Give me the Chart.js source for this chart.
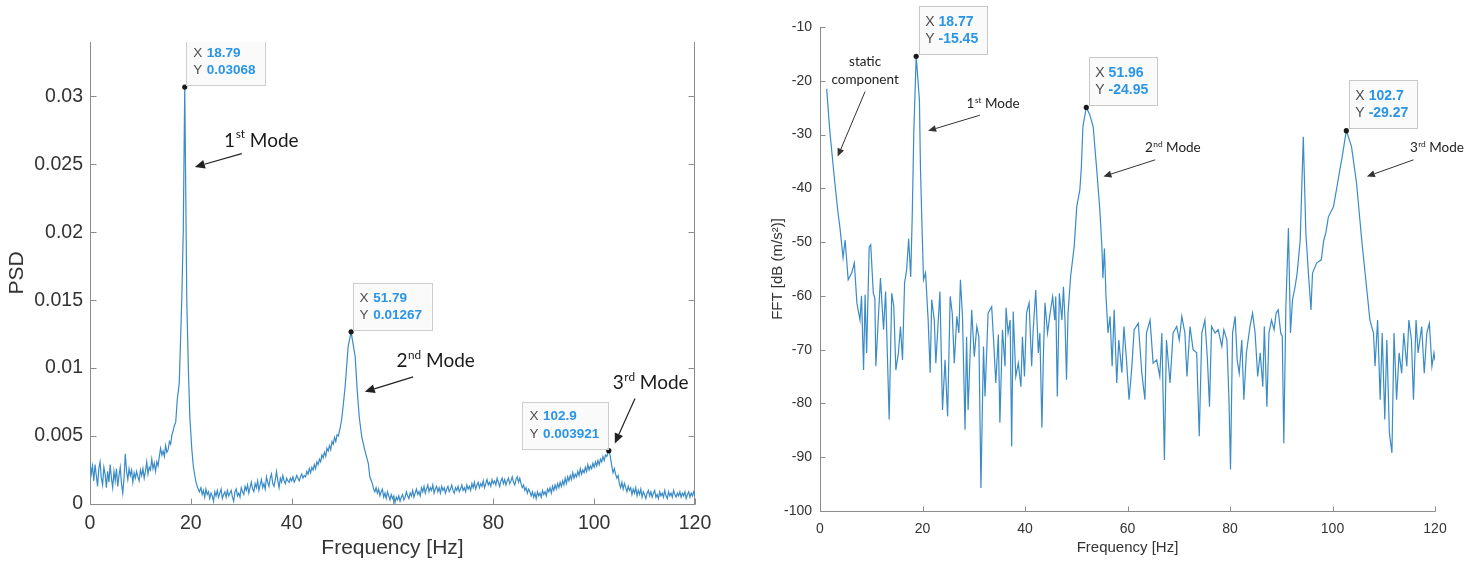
<!DOCTYPE html>
<html>
<head>
<meta charset="utf-8">
<script src="https://cdn.jsdelivr.net/npm/chart.js@4.4.1/dist/chart.umd.min.js"></script>
<style>
  html, body { margin: 0; padding: 0; background: #fff; }
  body { width: 1476px; height: 564px; position: relative; overflow: hidden; }
  .panel { position: absolute; top: 0; height: 564px; }
  #psd-wrap { left: 0; width: 740px; }
  #fft-wrap { left: 740px; width: 736px; }
</style>
</head>
<body>
<div class="panel" id="psd-wrap"><canvas id="psd-chart"></canvas></div>
<div class="panel" id="fft-wrap"><canvas id="fft-chart"></canvas></div>
<script>
// ---------- PSD panel ----------
const psdFreq = [
  0, 0.25, 0.5, 0.75, 1, 1.25, 1.5, 1.75, 2, 2.25,
  2.5, 2.75, 3, 3.25, 3.5, 3.75, 4, 4.25, 4.5, 4.75,
  5, 5.25, 5.5, 5.75, 6, 6.25, 6.5, 6.75, 7, 7.25,
  7.5, 7.75, 8, 8.25, 8.5, 8.75, 9, 9.25, 9.5, 9.75,
  10, 10.25, 10.5, 10.75, 11, 11.25, 11.5, 11.75, 12, 12.25,
  12.5, 12.75, 13, 13.25, 13.5, 13.75, 14, 14.25, 14.5, 14.75,
  15, 15.25, 15.5, 15.75, 16, 16.25, 16.5, 16.75, 17, 17.3,
  17.7, 17.9, 18.2, 18.5, 18.79, 19.2, 19.5, 19.8, 20.2, 20.5,
  21, 21.3, 21.7, 22, 22.25, 22.5, 22.75, 23, 23.25, 23.5,
  23.75, 24, 24.25, 24.5, 24.75, 25, 25.25, 25.5, 25.75, 26,
  26.25, 26.5, 26.75, 27, 27.25, 27.5, 27.75, 28, 28.25, 28.5,
  28.75, 29, 29.25, 29.5, 29.75, 30, 30.25, 30.5, 30.75, 31,
  31.25, 31.5, 31.75, 32, 32.25, 32.5, 32.75, 33, 33.25, 33.5,
  33.75, 34, 34.25, 34.5, 34.75, 35, 35.25, 35.5, 35.75, 36,
  36.25, 36.5, 36.75, 37, 37.25, 37.5, 37.75, 38, 38.25, 38.5,
  38.75, 39, 39.25, 39.5, 39.75, 40, 40.25, 40.5, 40.75, 41,
  41.25, 41.5, 41.75, 42, 42.25, 42.5, 42.75, 43, 43.25, 43.5,
  43.75, 44, 44.25, 44.5, 44.75, 45, 45.25, 45.5, 45.75, 46,
  46.25, 46.5, 46.75, 47, 47.25, 47.5, 47.75, 48, 48.25, 48.5,
  48.75, 49, 49.25, 49.6, 49.9, 50.2, 50.6, 50.9, 51.2, 51.79,
  52.6, 53, 53.4, 53.9, 54.5, 55.2, 55.5, 56, 56.25, 56.5,
  56.75, 57, 57.25, 57.5, 57.75, 58, 58.25, 58.5, 58.75, 59,
  59.25, 59.5, 59.75, 60, 60.25, 60.5, 60.75, 61, 61.25, 61.5,
  61.75, 62, 62.25, 62.5, 62.75, 63, 63.25, 63.5, 63.75, 64,
  64.25, 64.5, 64.75, 65, 65.25, 65.5, 65.75, 66, 66.25, 66.5,
  66.75, 67, 67.25, 67.5, 67.75, 68, 68.25, 68.5, 68.75, 69,
  69.25, 69.5, 69.75, 70, 70.25, 70.5, 70.75, 71, 71.25, 71.5,
  71.75, 72, 72.25, 72.5, 72.75, 73, 73.25, 73.5, 73.75, 74,
  74.25, 74.5, 74.75, 75, 75.25, 75.5, 75.75, 76, 76.25, 76.5,
  76.75, 77, 77.25, 77.5, 77.75, 78, 78.25, 78.5, 78.75, 79,
  79.25, 79.5, 79.75, 80, 80.25, 80.5, 80.75, 81, 81.25, 81.5,
  81.75, 82, 82.25, 82.5, 82.75, 83, 83.25, 83.5, 83.75, 84,
  84.25, 84.5, 84.75, 85, 85.25, 85.5, 85.75, 86, 86.25, 86.5,
  86.75, 87, 87.25, 87.5, 87.75, 88, 88.25, 88.5, 88.75, 89,
  89.25, 89.5, 89.75, 90, 90.25, 90.5, 90.75, 91, 91.25, 91.5,
  91.75, 92, 92.25, 92.5, 92.75, 93, 93.25, 93.5, 93.75, 94,
  94.25, 94.5, 94.75, 95, 95.25, 95.5, 95.75, 96, 96.25, 96.5,
  96.75, 97, 97.25, 97.5, 97.75, 98, 98.25, 98.5, 98.75, 99,
  99.25, 99.5, 99.75, 100, 100.25, 100.5, 100.75, 101, 101.25, 101.5,
  101.75, 102, 102.25, 102.5, 102.9, 103.2, 103.5, 103.75, 104, 104.25,
  104.5, 104.75, 105, 105.25, 105.5, 105.75, 106, 106.25, 106.5, 106.75,
  107, 107.25, 107.5, 107.75, 108, 108.25, 108.5, 108.75, 109, 109.25,
  109.5, 109.75, 110, 110.25, 110.5, 110.75, 111, 111.25, 111.5, 111.75,
  112, 112.25, 112.5, 112.75, 113, 113.25, 113.5, 113.75, 114, 114.25,
  114.5, 114.75, 115, 115.25, 115.5, 115.75, 116, 116.25, 116.5, 116.75,
  117, 117.25, 117.5, 117.75, 118, 118.25, 118.5, 118.75, 119, 119.25,
  119.5, 119.75, 120
];
const psdValue = [
  0.0031, 0.0022, 0.0028, 0.0017, 0.0029, 0.0021, 0.0013, 0.0026, 0.0031, 0.0019,
  0.0014, 0.0027, 0.0022, 0.0012, 0.0024, 0.0016, 0.0029, 0.0019, 0.0012, 0.0024,
  0.0017, 0.0026, 0.0013, 0.0021, 0.0027, 0.0015, 0.0008, 0.0019, 0.0037, 0.0024,
  0.0018, 0.0026, 0.0021, 0.0025, 0.0016, 0.0023, 0.0019, 0.0024, 0.0020, 0.0017,
  0.0025, 0.0021, 0.0026, 0.0019, 0.0024, 0.0031, 0.0022, 0.0027, 0.0025, 0.0033,
  0.0026, 0.0030, 0.0024, 0.0031, 0.0028, 0.0035, 0.0041, 0.0036, 0.0039, 0.0035,
  0.0043, 0.0038, 0.0040, 0.0046, 0.0044, 0.0051, 0.0054, 0.0058, 0.0060, 0.00765,
  0.00888, 0.0113, 0.0150, 0.0201, 0.03068, 0.0150, 0.0101, 0.0064, 0.0040, 0.00274,
  0.00164, 0.00127, 0.0009, 0.0012, 0.0007, 0.0010, 0.0005, 0.0011, 0.0007, 0.0009,
  0.0004, 0.0008, 0.0006, 0.0002, 0.0009, 0.0006, 0.0010, 0.0005, 0.0008, 0.0011,
  0.0004, 0.0007, 0.0009, 0.0005, 0.0010, 0.0006, 0.0008, 0.0010, 0.0005, 0.0002,
  0.0009, 0.0011, 0.0006, 0.0008, 0.0005, 0.0012, 0.0009, 0.0007, 0.0013, 0.0010,
  0.0014, 0.0008, 0.0012, 0.0016, 0.0011, 0.0009, 0.0015, 0.0012, 0.0017, 0.0010,
  0.0014, 0.0018, 0.0012, 0.0015, 0.0011, 0.0020, 0.0016, 0.0013, 0.0019, 0.0022,
  0.0015, 0.0013, 0.0018, 0.0024, 0.0017, 0.0012, 0.0019, 0.0016, 0.0021, 0.0017,
  0.0015, 0.0019, 0.0017, 0.0016, 0.0019, 0.0017, 0.0020, 0.0016, 0.0018, 0.0021,
  0.0019, 0.0017, 0.0020, 0.0022, 0.0019, 0.0021, 0.0020, 0.0024, 0.0022, 0.0026,
  0.0023, 0.0027, 0.0025, 0.0029, 0.0026, 0.0031, 0.0029, 0.0033, 0.0031, 0.0036,
  0.0034, 0.0038, 0.0035, 0.0041, 0.0039, 0.0043, 0.0040, 0.0046, 0.0044, 0.0049,
  0.0046, 0.0051, 0.0050, 0.00556, 0.00618, 0.00716, 0.00863, 0.0101, 0.01157, 0.01267,
  0.01083, 0.00838, 0.00642, 0.00495, 0.00397, 0.00299, 0.0020, 0.0015, 0.0011, 0.0009,
  0.0012, 0.0008, 0.0011, 0.0006, 0.0009, 0.0011, 0.0005, 0.0008, 0.0004, 0.0009,
  0.0006, 0.0003, 0.0007, 0.0004, 0.0006, 0.0001, 0.0005, 0.0003, 0.0006, 0.0002,
  0.0005, 0.0007, 0.0003, 0.0005, 0.0009, 0.0006, 0.0004, 0.0008, 0.0006, 0.0010,
  0.0005, 0.0008, 0.0011, 0.0007, 0.0009, 0.0006, 0.0012, 0.0009, 0.0013, 0.0008,
  0.0011, 0.0014, 0.0009, 0.0012, 0.0010, 0.0014, 0.0008, 0.0011, 0.0013, 0.0009,
  0.0012, 0.0008, 0.0013, 0.0010, 0.0012, 0.0008, 0.0011, 0.0013, 0.0009, 0.0011,
  0.0014, 0.0010, 0.0008, 0.0012, 0.0010, 0.0013, 0.0009, 0.0011, 0.0014, 0.0010,
  0.0012, 0.0009, 0.0014, 0.0011, 0.0013, 0.0010, 0.0015, 0.0012, 0.0016, 0.0011,
  0.0014, 0.0016, 0.0012, 0.0015, 0.0013, 0.0017, 0.0012, 0.0015, 0.0018, 0.0014,
  0.0016, 0.0013, 0.0018, 0.0015, 0.0017, 0.0014, 0.0019, 0.0016, 0.0013, 0.0017,
  0.0019, 0.0015, 0.0018, 0.0014, 0.0017, 0.0019, 0.0015, 0.0017, 0.0020, 0.0016,
  0.0014, 0.0018, 0.0020, 0.0016, 0.0019, 0.0015, 0.0012, 0.0014, 0.0010, 0.0012,
  0.0008, 0.0011, 0.0009, 0.0006, 0.0009, 0.0005, 0.0008, 0.0004, 0.0009, 0.0006,
  0.0008, 0.0005, 0.0010, 0.0007, 0.0009, 0.0006, 0.0011, 0.0009, 0.0012, 0.0008,
  0.0013, 0.0010, 0.0014, 0.0011, 0.0015, 0.0012, 0.0016, 0.0013, 0.0017, 0.0014,
  0.0019, 0.0015, 0.0020, 0.0017, 0.0021, 0.0018, 0.0023, 0.0019, 0.0022, 0.0020,
  0.0024, 0.0021, 0.0026, 0.0022, 0.0025, 0.0023, 0.0027, 0.0024, 0.0029, 0.0025,
  0.0028, 0.0026, 0.0030, 0.0027, 0.0031, 0.0028, 0.0032, 0.0029, 0.0033, 0.0031,
  0.0035, 0.0032, 0.0036, 0.0035, 0.003921, 0.0035, 0.0028, 0.0023, 0.0026, 0.0022,
  0.0019, 0.0021, 0.0015, 0.0012, 0.0016, 0.0011, 0.0015, 0.0012, 0.0009, 0.0013,
  0.0010, 0.0012, 0.0007, 0.0011, 0.0008, 0.0012, 0.0006, 0.0010, 0.0007, 0.0011,
  0.0005, 0.0009, 0.0007, 0.0004, 0.0008, 0.0010, 0.0006, 0.0009, 0.0005, 0.0008,
  0.0010, 0.0005, 0.0007, 0.0004, 0.0009, 0.0006, 0.0008, 0.0005, 0.0010, 0.0006,
  0.0004, 0.0009, 0.0006, 0.0008, 0.0005, 0.0010, 0.0007, 0.0005, 0.0008, 0.0006,
  0.0009, 0.0005, 0.0008, 0.0006, 0.0009, 0.0004, 0.0007, 0.0009, 0.0005, 0.0008,
  0.0006, 0.0009, 0.0006
];
const psdYTicks = [0, 0.005, 0.01, 0.015, 0.02, 0.025, 0.03];
const psdYLabels = ['0', '0.005', '0.01', '0.015', '0.02', '0.025', '0.03'];
const psdPeakFreq = [18.79, 51.79, 102.9];
const psdPeakValue = [0.03068, 0.01267, 0.003921];

// ---------- FFT panel ----------
const fftFreq = [
  1.3, 1.95, 2.9, 3.5, 3.9, 4.5, 4.9, 5.5, 6.2, 6.7, 7.2, 7.8, 8.1, 8.5, 8.8, 9.1, 9.6, 9.9, 10.4, 10.7,
  10.9, 11.4, 11.8, 12.4, 12.8, 13.5, 14.0, 14.4, 14.8, 15.3, 15.7, 16.1, 16.5, 16.9, 17.3, 17.7, 18.0, 18.3, 18.77, 19.4,
  19.6, 19.9, 20.2, 20.6, 21.1, 21.5, 21.8, 22.3, 22.6, 23.4, 23.9, 24.4, 24.9, 25.4, 25.8, 26.2, 26.7, 27.1, 27.4, 27.8,
  28.3, 28.6, 28.9, 29.6, 30.1, 30.6, 31.0, 31.4, 31.9, 32.2, 32.8, 33.5, 33.9, 34.3, 34.8, 35.1, 35.6, 36.1, 36.3, 36.7,
  37.1, 37.4, 37.7, 38.2, 38.7, 39.2, 39.5, 39.9, 40.3, 40.8, 41.3, 41.6, 42.1, 42.6, 42.9, 43.3, 43.6, 43.9, 44.4, 44.9,
  45.4, 45.8, 46.0, 46.3, 46.7, 47.2, 47.5, 47.8, 48.1, 48.4, 48.9, 49.6, 50.1, 50.7, 51.0, 51.3, 51.96, 52.6, 53.3, 54.0,
  54.6, 55.0, 55.2, 55.5, 55.8, 56.2, 56.6, 57.0, 57.4, 57.9, 58.3, 58.9, 59.3, 59.8, 60.3, 60.8, 61.3, 62.1, 62.8, 63.4,
  63.7, 64.4, 65.0, 65.7, 66.3, 66.7, 67.2, 67.6, 68.3, 68.9, 69.6, 70.1, 70.6, 71.2, 71.6, 72.2, 72.8, 73.5, 74.0, 74.5,
  75.1, 75.6, 76.0, 76.4, 77.1, 77.7, 78.4, 78.8, 79.4, 79.8, 80.1, 80.5, 81.0, 81.4, 81.8, 82.3, 82.7, 83.2, 83.9, 84.4,
  84.9, 85.4, 85.9, 86.4, 86.7, 87.2, 87.6, 88.1, 88.6, 89.0, 89.4, 89.9, 90.2, 90.5, 90.9, 91.4, 91.8, 92.2, 92.7, 93.1,
  93.7, 94.3, 94.8, 95.3, 95.8, 96.1, 96.9, 97.8, 98.3, 98.7, 99.2, 100.2, 101.1, 102.0, 102.7, 103.7, 104.7, 105.7, 106.7, 107.3,
  108.0, 108.3, 108.8, 109.3, 109.7, 110.2, 110.6, 111.1, 111.6, 112.0, 112.5, 113.0, 113.5, 113.9, 114.5, 114.9, 115.4, 115.8, 116.3, 116.7,
  117.4, 117.9, 118.4, 118.9, 119.4, 119.8, 120.0
];
const fftLevel = [
  -21.5, -29.7, -39.0, -44.4, -47.4, -52.9, -49.6, -57.0, -55.7, -53.9, -61.3, -64.5, -60.0, -73.8, -59.8, -70.6, -50.9, -50.5, -59.5, -60.4,
  -73.1, -63.8, -56.7, -66.3, -59.2, -83.0, -59.5, -62.0, -73.8, -70.6, -65.7, -71.9, -57.6, -55.2, -49.4, -56.5, -45.0, -29.7, -15.45, -23.6,
  -36.0, -47.0, -57.0, -55.7, -64.5, -74.3, -60.7, -64.5, -72.5, -59.2, -81.2, -71.9, -82.4, -60.1, -63.2, -72.5, -63.8, -66.9, -57.0, -63.8,
  -84.9, -67.6, -81.2, -62.6, -71.3, -65.7, -67.6, -95.7, -69.4, -78.7, -63.2, -62.0, -68.7, -76.2, -67.2, -83.6, -66.3, -73.1, -62.2, -66.9,
  -64.5, -88.0, -62.9, -75.0, -72.5, -76.9, -67.6, -75.0, -63.2, -61.3, -73.1, -66.3, -58.9, -70.6, -66.9, -84.5, -70.6, -61.3, -66.9, -63.2,
  -60.1, -64.5, -60.1, -78.7, -59.5, -64.5, -58.3, -64.5, -75.6, -63.2, -56.4, -50.8, -43.4, -40.3, -36.0, -28.5, -24.95, -26.2, -28.5, -36.6,
  -44.0, -50.8, -56.7, -51.2, -60.0, -66.9, -63.8, -73.1, -62.6, -76.2, -68.2, -74.3, -65.7, -71.9, -79.3, -73.8, -66.3, -65.1, -74.4, -79.3,
  -66.9, -64.5, -72.5, -71.9, -75.0, -66.9, -90.5, -68.2, -76.2, -66.9, -65.7, -68.2, -63.8, -66.9, -75.0, -65.7, -70.0, -70.6, -86.1, -66.9,
  -64.5, -71.9, -80.6, -65.7, -66.9, -66.3, -69.4, -66.3, -68.2, -79.3, -92.3, -66.9, -63.8, -71.9, -74.4, -68.2, -79.3, -70.6, -65.7, -63.2,
  -66.9, -75.0, -70.6, -76.9, -65.7, -80.6, -66.9, -64.5, -66.3, -63.2, -62.6, -66.9, -67.5, -87.4, -62.0, -47.4, -66.9, -60.7, -58.3, -55.8,
  -49.6, -30.4, -48.3, -55.8, -62.6, -55.8, -53.9, -53.3, -49.6, -48.3, -45.3, -43.4, -38.4, -33.5, -29.27, -32.2, -39.1, -49.6, -58.9, -64.5,
  -66.9, -73.1, -64.5, -79.3, -66.9, -83.0, -68.2, -85.5, -89.2, -66.9, -79.3, -70.6, -74.4, -66.9, -73.1, -64.5, -68.2, -79.3, -64.5, -70.6,
  -65.7, -74.4, -66.9, -65.1, -73.1, -70.6, -72.0
];
const fftYTicks = [-100, -90, -80, -70, -60, -50, -40, -30, -20, -10];
const fftPeakFreq = [18.77, 51.96, 102.7];
const fftPeakLevel = [-15.45, -24.95, -29.27];

const freqTicks = [0, 20, 40, 60, 80, 100, 120];
const modeNames = [['1', 'st'], ['2', 'nd'], ['3', 'rd']];

const LINE_BLUE = '#3a8bc6';
const AXIS_GREY = '#8c8c8c';
const TEXT_DARK = '#333333';
const SANS = '"Liberation Sans", Arial, Helvetica, sans-serif';
const NOTE_FONT = 'Lato, "Open Sans", sans-serif';

const points = (xs, ys) => xs.map((x, i) => ({ x, y: ys[i] }));

// axis lines with inward ticks, optional right edge
const axesBox = {
  id: 'axesBox',
  beforeDatasetsDraw(chart, _args, o) {
    const { ctx, chartArea: a, scales: { x, y } } = chart;
    ctx.save();
    ctx.strokeStyle = o.color;
    ctx.lineWidth = 1;
    ctx.beginPath();
    const L = Math.round(a.left) + 0.5, B = Math.round(a.bottom) + 0.5, R = Math.round(a.right) - 0.5;
    ctx.moveTo(L, a.top);
    ctx.lineTo(L, B);
    ctx.lineTo(R + 1, B);
    if (o.box) {
      ctx.moveTo(R, a.top);
      ctx.lineTo(R, B);
    }
    x.ticks.forEach(t => {
      const p = Math.round(x.getPixelForValue(t.value)) + 0.5;
      ctx.moveTo(p, B);
      ctx.lineTo(p, B - o.tickLen);
    });
    y.ticks.forEach(t => {
      const p = Math.round(y.getPixelForValue(t.value)) + 0.5;
      ctx.moveTo(L, p);
      ctx.lineTo(L + o.tickLen, p);
      if (o.box) {
        ctx.moveTo(R, p);
        ctx.lineTo(R - o.tickLen, p);
      }
    });
    ctx.stroke();
    ctx.restore();
  }
};

function drawArrow(ctx, x1, y1, x2, y2, a) {
  const ang = Math.atan2(y2 - y1, x2 - x1);
  const c = Math.cos(ang), s = Math.sin(ang);
  const bx = x2 - a.head * c, by = y2 - a.head * s;
  ctx.strokeStyle = a.color;
  ctx.fillStyle = a.color;
  ctx.lineWidth = a.width;
  ctx.beginPath();
  ctx.moveTo(x1, y1);
  ctx.lineTo(bx, by);
  ctx.stroke();
  ctx.beginPath();
  ctx.moveTo(x2, y2);
  ctx.lineTo(bx + a.half * s, by - a.half * c);
  ctx.lineTo(bx - a.half * s, by + a.half * c);
  ctx.closePath();
  ctx.fill();
}

function drawModeLabel(ctx, x, y, name, size, color) {
  ctx.fillStyle = color;
  ctx.textAlign = 'left';
  ctx.textBaseline = 'middle';
  ctx.font = `${size}px ${NOTE_FONT}`;
  ctx.fillText(name[0], x, y);
  let cx = x + ctx.measureText(name[0]).width + 0.5;
  ctx.font = `${size * 0.62}px ${NOTE_FONT}`;
  ctx.fillText(name[1], cx, y - size * 0.3);
  cx += ctx.measureText(name[1]).width;
  ctx.font = `${size}px ${NOTE_FONT}`;
  ctx.fillText(' Mode', cx, y);
}

function drawTip(ctx, ax, ay, xs, ys, t, side) {
  const bold = `bold ${t.size}px ${SANS}`;
  ctx.font = bold;
  const w = Math.max(ctx.measureText(xs).width, ctx.measureText(ys).width);
  const bw = t.numX + w + t.padR;
  const left = side === 'left' ? ax - bw : ax + t.dx;
  const top = ay - t.dy - t.h;
  ctx.fillStyle = t.fill;
  ctx.fillRect(left, top, bw, t.h);
  ctx.strokeStyle = t.border;
  ctx.lineWidth = 1;
  ctx.strokeRect(Math.round(left) + 0.5, Math.round(top) + 0.5, Math.round(bw), Math.round(t.h));
  ctx.textAlign = 'left';
  ctx.textBaseline = 'middle';
  ctx.font = `${t.size}px ${SANS}`;
  ctx.fillStyle = t.labelColor;
  ctx.fillText('X', left + t.labelX, top + t.row1);
  ctx.fillText('Y', left + t.labelX, top + t.row2);
  ctx.font = bold;
  ctx.fillStyle = t.valueColor;
  ctx.fillText(xs, left + t.numX, top + t.row1);
  ctx.fillText(ys, left + t.numX, top + t.row2);
}

// mode labels, arrows and data tips
const peakNotes = {
  id: 'peakNotes',
  afterDatasetsDraw(chart, _args, o) {
    const { ctx, chartArea: area, scales: { x, y } } = chart;
    const px = v => x.getPixelForValue(v);
    const py = v => y.getPixelForValue(v);
    ctx.save();
    o.notes.forEach(n => {
      drawArrow(ctx, px(n.from[0]), py(n.from[1]), px(n.to[0]), py(n.to[1]), o.arrow);
      if (n.mode !== undefined) {
        drawModeLabel(ctx, px(n.at[0]), py(n.at[1]), modeNames[n.mode], o.noteSize, o.noteColor);
      } else {
        ctx.fillStyle = o.noteColor;
        ctx.font = `${o.noteSize}px ${NOTE_FONT}`;
        ctx.textAlign = 'center';
        ctx.textBaseline = 'middle';
        n.lines.forEach((s, i) => ctx.fillText(s, px(n.at[0]), py(n.at[1]) + i * n.gap));
      }
    });
    ctx.save();
    if (o.clipTop) {
      ctx.beginPath();
      ctx.rect(0, area.top, chart.width, chart.height - area.top);
      ctx.clip();
    }
    o.peakX.forEach((f, i) => {
      const v = o.peakY[i];
      drawTip(ctx, px(f), py(v), f.toPrecision(4), v.toPrecision(4), o.tip, o.tipSide[i]);
    });
    ctx.restore();
    ctx.restore();
  }
};

function makeChart(id, cfg) {
  return new Chart(document.getElementById(id), {
    type: 'line',
    data: {
      datasets: [
        {
          type: 'scatter',
          data: points(cfg.peakX, cfg.peakY),
          pointRadius: 2.6,
          pointBackgroundColor: '#1a1a1a',
          pointBorderWidth: 0
        },
        {
          data: points(cfg.freq, cfg.values),
          borderColor: LINE_BLUE,
          borderWidth: 1.2,
          pointRadius: 0,
          tension: 0,
          fill: false
        }
      ]
    },
    options: {
      responsive: true,
      maintainAspectRatio: false,
      animation: false,
      devicePixelRatio: 1,
      parsing: false,
      layout: { padding: cfg.padding },
      plugins: {
        legend: { display: false },
        tooltip: { enabled: false },
        axesBox: { color: AXIS_GREY, tickLen: cfg.tickLen, box: cfg.box },
        peakNotes: cfg.notes
      },
      scales: {
        x: {
          type: 'linear',
          min: 0,
          max: 120,
          afterBuildTicks: s => { s.ticks = freqTicks.map(v => ({ value: v })); },
          afterFit: s => { s.height = cfg.xHeight; },
          grid: { display: false, drawTicks: false },
          border: { display: false },
          ticks: {
            font: { family: SANS, size: cfg.tickSize },
            color: TEXT_DARK,
            padding: cfg.xPad,
            maxRotation: 0,
            callback: v => String(v)
          },
          title: {
            display: true,
            text: 'Frequency [Hz]',
            font: { family: SANS, size: cfg.titleSize },
            color: TEXT_DARK,
            padding: { top: 0, bottom: cfg.xTitlePad }
          }
        },
        y: {
          type: 'linear',
          min: cfg.yMin,
          max: cfg.yMax,
          afterBuildTicks: s => { s.ticks = cfg.yTicks.map(v => ({ value: v })); },
          afterFit: s => { s.width = cfg.yWidth; },
          grid: { display: false, drawTicks: false },
          border: { display: false },
          ticks: {
            font: { family: SANS, size: cfg.tickSize },
            color: TEXT_DARK,
            padding: cfg.yPad,
            callback: cfg.yLabel
          },
          title: {
            display: true,
            text: cfg.yTitle,
            font: { family: SANS, size: cfg.titleSize },
            color: TEXT_DARK,
            padding: { top: cfg.yTitlePad, bottom: 0 }
          }
        }
      }
    },
    plugins: [axesBox, peakNotes]
  });
}

makeChart('psd-chart', {
  freq: psdFreq,
  values: psdValue,
  peakX: psdPeakFreq,
  peakY: psdPeakValue,
  yMin: 0,
  yMax: 0.034,
  yTicks: psdYTicks,
  yLabel: (v, i) => psdYLabels[i],
  yTitle: 'PSD',
  padding: { left: 0, right: 45, top: 42, bottom: 0 },
  xHeight: 60,
  yWidth: 90,
  tickSize: 19.5,
  titleSize: 21,
  xPad: 8,
  yPad: 7,
  xTitlePad: 3,
  yTitlePad: 5,
  tickLen: 6,
  box: true,
  notes: {
    peakX: psdPeakFreq,
    peakY: psdPeakValue,
    tipSide: ['right', 'right', 'left'],
    clipTop: true,
    noteSize: 19,
    noteColor: '#1a1a1a',
    arrow: { color: '#222', width: 1.2, head: 10, half: 4.5 },
    tip: {
      size: 13.5, h: 47, dx: 1.5, dy: 2, numX: 20.6, padR: 9.5, labelX: 7, row1: 15, row2: 32.5,
      fill: 'rgba(250,250,250,0.96)', border: '#cdcdcd', labelColor: '#4d4d4d', valueColor: '#2a95e6'
    },
    notes: [
      { mode: 0, at: [26.6, 0.02676], from: [30.1, 0.02579], to: [20.8, 0.0248] },
      { mode: 1, at: [60.8, 0.01054], from: [64.1, 0.00936], to: [54.5, 0.00826] },
      { mode: 2, at: [103.7, 0.00892], from: [108.1, 0.00777], to: [104.1, 0.00446] }
    ]
  }
});

makeChart('fft-chart', {
  freq: fftFreq,
  values: fftLevel,
  peakX: fftPeakFreq,
  peakY: fftPeakLevel,
  yMin: -100,
  yMax: -10,
  yTicks: fftYTicks,
  yLabel: v => String(v),
  yTitle: 'FFT [dB (m/s²)]',
  padding: { left: 0, right: 41, top: 27, bottom: 0 },
  xHeight: 53,
  yWidth: 80,
  tickSize: 14,
  titleSize: 15,
  xPad: 10,
  yPad: 8,
  xTitlePad: 7,
  yTitlePad: 29,
  tickLen: 5,
  box: false,
  notes: {
    peakX: fftPeakFreq,
    peakY: fftPeakLevel,
    tipSide: ['right', 'right', 'right'],
    clipTop: false,
    noteSize: 13.5,
    noteColor: '#222',
    arrow: { color: '#333', width: 1, head: 8, half: 3.5 },
    tip: {
      size: 14, h: 48, dx: 3, dy: 2.2, numX: 19.3, padR: 9, labelX: 6, row1: 15.7, row2: 33,
      fill: 'rgba(250,250,250,0.96)', border: '#c8c8c8', labelColor: '#4d4d4d', valueColor: '#2a95e6'
    },
    notes: [
      { lines: ['static', 'component'], gap: 18.3, at: [8.8, -16.45], from: [8.8, -22.0], to: [3.45, -34.1] },
      { mode: 0, at: [28.6, -24.3], from: [31.2, -26.4], to: [21.1, -29.3] },
      { mode: 1, at: [63.4, -32.5], from: [65.4, -34.7], to: [55.3, -37.8] },
      { mode: 2, at: [115.1, -32.5], from: [115.8, -34.7], to: [106.7, -37.8] }
    ]
  }
});
</script>
</body>
</html>
